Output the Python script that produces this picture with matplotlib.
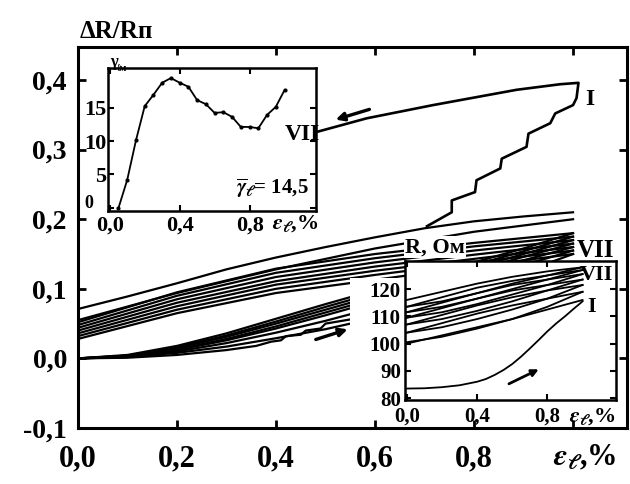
import matplotlib.pyplot as plt
from matplotlib.patches import Rectangle

plt.rcParams['font.family'] = ['Liberation Serif', 'DejaVu Serif']
plt.rcParams['font.weight'] = 'bold'
plt.rcParams['mathtext.fontset'] = 'stix'

# ---- main chart: dR/R vs strain, cycles I..VII ----
strain_load = [0.0, 0.1, 0.2, 0.3, 0.4, 0.5, 0.6, 0.7, 0.8, 0.9, 1.0]
strain_unload = [0.0, 0.2, 0.4, 0.6, 0.8, 1.0]

# loading branches, all starting from zero
load_curves = [
    [0, 0.005, 0.018, 0.036, 0.057, 0.078, 0.098, 0.118, 0.138, 0.158, 0.180],
    [0, 0.004, 0.016, 0.033, 0.053, 0.074, 0.094, 0.114, 0.134, 0.154, 0.175],
    [0, 0.004, 0.015, 0.031, 0.050, 0.070, 0.090, 0.110, 0.130, 0.150, 0.170],
    [0, 0.003, 0.013, 0.028, 0.046, 0.066, 0.086, 0.106, 0.126, 0.146, 0.165],
    [0, 0.003, 0.012, 0.026, 0.043, 0.062, 0.082, 0.102, 0.122, 0.141, 0.160],
    [0, 0.002, 0.010, 0.022, 0.037, 0.054, 0.073, 0.093, 0.114, 0.134, 0.155],
    [0, 0.002, 0.008, 0.017, 0.029, 0.042, 0.058, 0.078, 0.100, 0.124, 0.150],
]
# unloading branches
unload_curves = [
    [0.052, 0.095, 0.129, 0.150, 0.166, 0.180],
    [0.048, 0.090, 0.123, 0.144, 0.161, 0.175],
    [0.044, 0.085, 0.117, 0.138, 0.155, 0.170],
    [0.040, 0.080, 0.111, 0.132, 0.149, 0.165],
    [0.036, 0.075, 0.106, 0.126, 0.143, 0.160],
    [0.032, 0.070, 0.100, 0.120, 0.138, 0.155],
    [0.028, 0.065, 0.094, 0.113, 0.132, 0.150],
]

# bumpy first loading
first_x = [0, 0.1, 0.2, 0.3, 0.36, 0.39, 0.41, 0.42, 0.45, 0.46, 0.49, 0.5, 0.55, 0.6, 0.7, 0.8]
first_y = [0, 0.001, 0.005, 0.012, 0.018, 0.024, 0.026, 0.032, 0.034, 0.040, 0.043, 0.050, 0.056, 0.062, 0.075, 0.090]

# upper loop
top_y = [0.071, 0.089, 0.108, 0.128, 0.145, 0.160, 0.174, 0.187, 0.197, 0.204, 0.210]
top_ret_y = [0.055, 0.094, 0.128, 0.158, 0.182, 0.200]

# staircase of cycle I and its return
step_x = [0.705, 0.755, 0.755, 0.802, 0.805, 0.853, 0.856, 0.906, 0.910, 0.954, 0.964,
          1.0, 1.007, 1.011, 0.974, 0.886, 0.717, 0.583, 0.485, 0.30]
step_y = [0.190, 0.210, 0.227, 0.239, 0.256, 0.273, 0.287, 0.304, 0.323, 0.338, 0.352,
          0.364, 0.374, 0.396, 0.394, 0.386, 0.364, 0.345, 0.326, 0.300]

# ---- upper inset: gamma vs strain ----
gamma_x = [0.05, 0.10, 0.15, 0.20, 0.25, 0.30, 0.35, 0.40, 0.45, 0.50,
           0.55, 0.60, 0.65, 0.70, 0.75, 0.80, 0.85, 0.90, 0.95, 1.00]
gamma_y = [0, 4.2, 10.1, 15.2, 16.9, 18.7, 19.4, 18.7, 18.1, 16.1,
           15.5, 14.2, 14.3, 13.6, 12.1, 12.1, 11.9, 13.9, 15.1, 17.6]

# ---- lower inset: R (Ohm) vs strain ----
r_first_x = [0.0, 0.1, 0.2, 0.3, 0.4, 0.45, 0.5, 0.55, 0.6, 0.65, 0.7, 0.75, 0.8, 0.85, 0.9, 0.95, 1.0]
r_first_y = [83.5, 83.6, 84.0, 84.7, 86.0, 87.0, 88.5, 90.3, 92.5, 95.2, 98.2, 101.3, 104.5, 107.4, 110.0, 112.8, 115.5]
r_x = [0.0, 0.2, 0.4, 0.6, 0.8, 1.0]
r_load = [
    [100.5, 102.5, 105.5, 109.0, 113.5, 119.0],
    [104.0, 106.0, 109.0, 112.5, 116.5, 121.5],
    [107.0, 109.0, 112.0, 115.5, 119.5, 123.5],
    [109.5, 111.5, 114.5, 118.0, 121.5, 125.5],
    [111.5, 113.5, 116.5, 120.0, 123.5, 127.0],
    [113.5, 115.5, 118.5, 122.0, 125.0, 128.0],
]
r_unload = [
    [100.0, 103.0, 106.0, 109.0, 112.5, 116.0],
    [104.0, 107.5, 111.0, 114.0, 116.5, 119.0],
    [107.0, 110.5, 114.0, 117.0, 119.5, 121.5],
    [109.5, 113.0, 116.5, 119.5, 121.5, 123.5],
    [111.5, 115.0, 118.5, 121.5, 123.5, 125.5],
    [113.5, 117.0, 120.5, 123.0, 125.0, 127.0],
    [116.0, 119.0, 122.0, 124.5, 126.5, 128.0],
]

LW = 1.6
fig = plt.figure(figsize=(6.3, 4.84), dpi=100)
ax = fig.add_axes([78 / 630, 1 - 428 / 484, 549 / 630, 381 / 484])

for ys in load_curves:
    ax.plot(strain_load, ys, color='k', lw=LW)
for ys in unload_curves:
    ax.plot(strain_unload, ys, color='k', lw=LW)
ax.plot(first_x, first_y, color='k', lw=LW)
ax.plot(strain_load, top_y, color='k', lw=LW)
ax.plot(strain_unload, top_ret_y, color='k', lw=LW)
ax.plot(step_x, step_y, color='k', lw=LW + 0.3)

arr = dict(arrowstyle='-|>', color='k', lw=2.4, mutation_scale=12)
ax.annotate('', xy=(0.515, 0.342), xytext=(0.594, 0.359), arrowprops=arr)
ax.annotate('', xy=(0.55, 0.043), xytext=(0.475, 0.026), arrowprops=arr)

ax.text(1.025, 0.372, 'I', fontsize=17, va='center', ha='left')
ax.text(1.008, 0.155, 'VII', fontsize=18, va='center', ha='left')

ax.set_xlim(0, 1.109)
ax.set_ylim(-0.1, 0.4475)
ax.set_xticks([0, 0.2, 0.4, 0.6, 0.8, 1.0])
ax.set_xticklabels(['0,0', '0,2', '0,4', '0,6', '0,8', ''])
ax.set_yticks([-0.1, 0, 0.1, 0.2, 0.3, 0.4])
ax.set_yticklabels(['-0,1', '0,0', '0,1', '0,2', '0,3', '0,4'])
ax.tick_params(direction='in', length=6, width=2, top=True, right=True)
ax.tick_params(axis='x', labelsize=22, pad=12)
ax.tick_params(axis='y', labelsize=20, pad=8)
for s in ax.spines.values():
    s.set_linewidth(2.2)

fig.text(80 / 630, 1 - 38 / 484, 'ΔR/Rп', fontsize=18, va='baseline')
fig.text(585 / 630, 1 - 458 / 484, r'$\varepsilon_{\ell}$,%', fontsize=22, ha='center', va='center')

# white area behind the left labels of the lower inset
ax.add_patch(Rectangle((350 / 630, 1 - 400 / 484), 55 / 630, 122 / 484,
                       transform=fig.transFigure, facecolor='white', edgecolor='none',
                       zorder=5, clip_on=False))

# ---- upper inset ----
ax1 = fig.add_axes([108 / 630, 1 - 211 / 484, 208 / 630, 143 / 484])
ax1.plot(gamma_x, gamma_y, color='k', lw=1.3, marker='o', ms=2)
ax1.set_xlim(-0.01, 1.18)
ax1.set_ylim(-0.45, 20.9)
ax1.set_xticks([0, 0.4, 0.8])
ax1.set_xticklabels(['0,0', '0,4', '0,8'])
ax1.set_yticks([0, 5, 10, 15])
ax1.set_yticklabels(['', '5', '10', '15'])
ax1.tick_params(direction='in', length=4, width=1.5, top=True, right=True, labelsize=16)
ax1.tick_params(axis='y', pad=1)
ax1.tick_params(axis='x', pad=3)
for s in ax1.spines.values():
    s.set_linewidth(1.8)
ax1.text(1.0, 11.0, 'VII', fontsize=17, ha='left', va='center')
ax1.text(0.93, 3.0, r'$\overline{\gamma}_{\ell}$= 14,5', fontsize=15, ha='center', va='center')
fig.text(89 / 630, 1 - 204 / 484, '0', fontsize=13, ha='center', va='center')
fig.text(110 / 630, 1 - 66 / 484, 'γ', fontsize=12, va='baseline')
fig.text(117 / 630, 1 - 64 / 484, 'ℓм', fontsize=7, va='top')
fig.text(295 / 630, 1 - 224 / 484, r'$\varepsilon_{\ell}$,%', fontsize=16, ha='center', va='center')

# ---- lower inset ----
ax2 = fig.add_axes([405 / 630, 1 - 400 / 484, 211 / 630, 139 / 484])
ax2.plot(r_first_x, r_first_y, color='k', lw=1.3)
for ys in r_load:
    ax2.plot(r_x, ys, color='k', lw=1.3)
for ys in r_unload:
    ax2.plot(r_x, ys, color='k', lw=1.3)
ax2.annotate('', xy=(0.765, 91.0), xytext=(0.567, 84.8), arrowprops=dict(arrowstyle='-|>', color='k', lw=2, mutation_scale=10))
ax2.text(0.985, 125.2, 'VII', fontsize=16, ha='left', va='center')
ax2.text(1.025, 113.4, 'I', fontsize=16, ha='left', va='center')
ax2.set_xlim(-0.01, 1.19)
ax2.set_ylim(79.3, 130.3)
ax2.set_xticks([0, 0.4, 0.8])
ax2.set_xticklabels(['0,0', '0,4', '0,8'])
ax2.set_yticks([80, 90, 100, 110, 120])
ax2.tick_params(direction='in', length=4, width=1.5, top=True, right=True, labelsize=15)
ax2.tick_params(axis='y', pad=3)
ax2.tick_params(axis='x', pad=5)
for s in ax2.spines.values():
    s.set_linewidth(1.8)
ax2.text(0.0, 1.1, 'R, Ом', transform=ax2.transAxes, fontsize=16, ha='left', va='center',
         bbox=dict(facecolor='white', edgecolor='none', pad=0.5))
fig.text(592 / 630, 1 - 417 / 484, r'$\varepsilon_{\ell}$,%', fontsize=16, ha='center', va='center')

fig.savefig('out.png', dpi=100, facecolor='white')
